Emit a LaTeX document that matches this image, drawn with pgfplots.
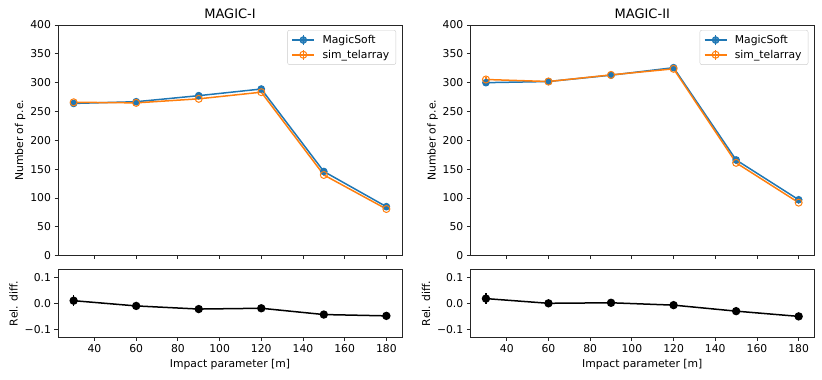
\documentclass[border=0pt]{standalone}
\usepackage{fontspec}
\setmainfont{DejaVu Sans}
\usepackage{pgfplots}
\pgfplotsset{compat=1.18}

\definecolor{tabblue}{HTML}{1F77B4}
\definecolor{taborange}{HTML}{FF7F0E}

\newcommand{\tenfont}{\fontsize{10.8}{13}\selectfont}

\pgfplotsset{
  base/.style={
    scale only axis, width=344pt,
    xmin=22.5, xmax=187.5,
    xtick={40,60,...,180},
    axis line style={black!85, line width=0.8pt},
    tick align=outside, major tick length=3.5pt,
    tick style={black!85, line width=0.8pt},
    xtick pos=bottom, ytick pos=left,
    /pgf/number format/assume math mode=true,
    tick label style={font=\tenfont},
    label style={font=\tenfont},
    title style={font=\fontsize{13}{15}\selectfont, yshift=-3pt},
    every axis plot/.append style={line width=1.5pt},
  },
  main/.style={base, height=230.7pt,
    ymin=0, ymax=400, ytick={0,50,...,400}, xticklabels={},
    ylabel={Number of p.e.}, ylabel style={yshift=-2pt},
    legend cell align=left,
    legend style={at={(rel axis cs:1,1)}, anchor=north east,
      xshift=-6pt, yshift=-5pt, draw=black!20, rounded corners=2pt,
      fill=white, fill opacity=0.8, text opacity=1,
      font=\tenfont, nodes={font=\tenfont, inner sep=2.5pt},
      inner xsep=4pt, inner ysep=2.5pt, row sep=0pt,
      /tikz/every odd column/.append style={column sep=5pt}},
  },
  ratio/.style={base, height=68pt,
    ymin=-0.13, ymax=0.13, ytick={-0.1,0,0.1}, yticklabels={−0.1,0.0,0.1},
    ylabel={Rel. diff.}, xlabel={Impact parameter [m]}},
  errleg/.style={legend image code/.code={
      \draw[##1, mark=none] (0pt,0pt) -- (22pt,0pt);
      \draw[##1, mark=none] (11pt,-5pt) -- (11pt,5pt);
      \draw[##1, only marks] plot coordinates {(11pt,0pt)};
    }},
  ms/.style={tabblue, mark=*, mark size=3.3pt, mark options={line width=1pt},
    errleg, error bars/.cd, y dir=both, y explicit,
    error bar style={line width=1.5pt}, error mark=none},
  st/.style={taborange, mark=o, mark size=3.5pt, mark options={line width=1pt},
    errleg, error bars/.cd, y dir=both, y explicit,
    error bar style={line width=1.5pt}, error mark=none},
  rd/.style={black, mark=*, mark size=3.4pt,
    error bars/.cd, y dir=both, y explicit,
    error bar style={line width=1.5pt}, error mark=none},
}

\begin{document}
\begin{tikzpicture}
\path[use as bounding box] (0,0) rectangle (822pt,-380pt);

% ---- MAGIC-I ----
\begin{axis}[main, at={(58pt,-25pt)}, anchor=north west, title={MAGIC-I}]
\addplot[ms] coordinates {
  (30,264) +- (0,3.5) (60,267) +- (0,1.5) (90,277.5) +- (0,1.5)
  (120,289) +- (0,1.5) (150,146) +- (0,1) (180,85) +- (0,1)
};
\addlegendentry{MagicSoft}
\addplot[st] coordinates {
  (30,266) +- (0,3.5) (60,265) +- (0,1.5) (90,272) +- (0,1.5)
  (120,283.5) +- (0,1.5) (150,140) +- (0,1) (180,81) +- (0,1)
};
\addlegendentry{sim\_telarray}
\end{axis}

\begin{axis}[ratio, at={(58pt,-269.3pt)}, anchor=north west]
\addplot[rd] coordinates {
  (30,0.010) +- (0,0.020) (60,-0.010) +- (0,0.007) (90,-0.022) +- (0,0.006)
  (120,-0.019) +- (0,0.006) (150,-0.043) +- (0,0.007) (180,-0.048) +- (0,0.008)
};
\end{axis}

% ---- MAGIC-II ----
\begin{axis}[main, at={(470.3pt,-25pt)}, anchor=north west, title={MAGIC-II}]
\addplot[ms] coordinates {
  (30,300) +- (0,3.5) (60,302) +- (0,1.5) (90,313) +- (0,1.5)
  (120,326) +- (0,1.5) (150,166) +- (0,1) (180,97) +- (0,1)
};
\addlegendentry{MagicSoft}
\addplot[st] coordinates {
  (30,305.5) +- (0,3.5) (60,302) +- (0,1.5) (90,313.5) +- (0,1.5)
  (120,324) +- (0,1.5) (150,161) +- (0,1) (180,92) +- (0,1)
};
\addlegendentry{sim\_telarray}
\end{axis}

\begin{axis}[ratio, at={(470.3pt,-269.3pt)}, anchor=north west]
\addplot[rd] coordinates {
  (30,0.018) +- (0,0.020) (60,0.000) +- (0,0.007) (90,0.002) +- (0,0.006)
  (120,-0.007) +- (0,0.006) (150,-0.030) +- (0,0.007) (180,-0.050) +- (0,0.008)
};
\end{axis}
\end{tikzpicture}
\end{document}
